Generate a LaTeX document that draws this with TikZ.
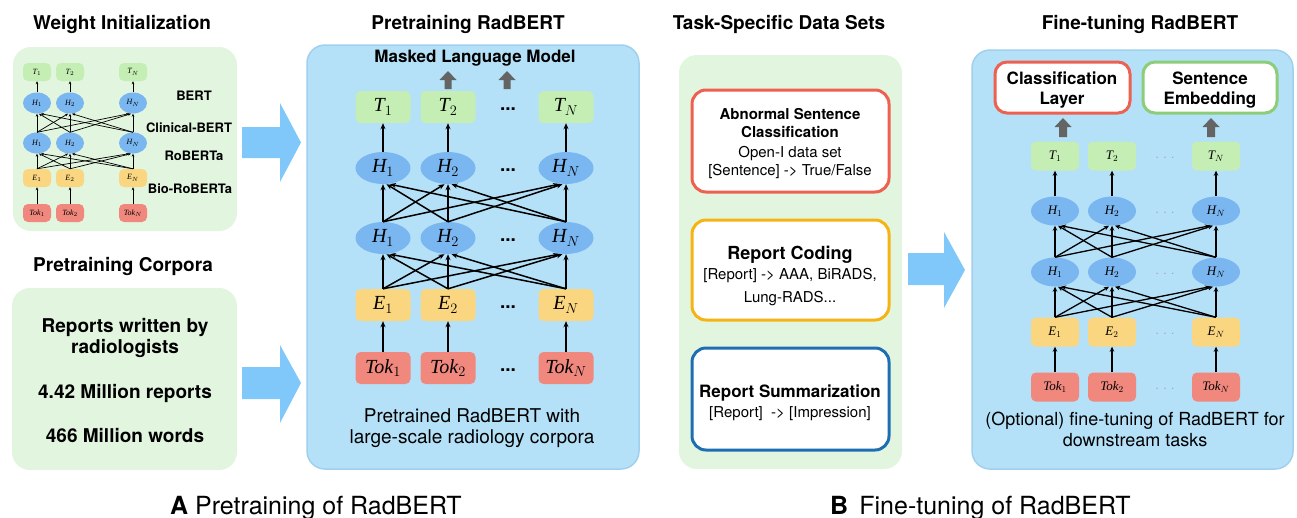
\documentclass[tikz,border=0pt]{standalone}
\usepackage{fontspec}
\setmainfont{TeX Gyre Heros}
\newfontfamily\timesf{Liberation Serif}
\usetikzlibrary{arrows.meta,shapes.geometric}
\definecolor{panelblue}{RGB}{180,225,248}
\definecolor{panelblueborder}{RGB}{160,208,238}
\definecolor{panelgreen}{RGB}{226,245,223}
\definecolor{tgreen}{RGB}{196,238,180}
\definecolor{hblue}{RGB}{122,182,240}
\definecolor{eyellow}{RGB}{250,214,128}
\definecolor{tokred}{RGB}{240,136,126}
\definecolor{bigarrow}{RGB}{128,200,250}
\definecolor{grayarr}{RGB}{100,100,100}
\definecolor{bred}{RGB}{238,96,80}
\definecolor{borange}{RGB}{245,180,20}
\definecolor{bblue}{RGB}{30,110,180}
\definecolor{bgreen}{RGB}{140,205,120}
\newcommand{\fs}[1]{\fontsize{#1}{#1}\selectfont}
\newcommand{\lab}[2]{{\timesf\itshape #1}$_{#2}$}
\tikzset{
  x=1pt, y=-1pt,
  panelB/.style={fill=panelblue, draw=panelblueborder, line width=1.5pt, rounded corners=18pt},
  panelG/.style={fill=panelgreen, rounded corners=18pt},
  tnode/.style={rectangle, rounded corners=5pt, fill=tgreen, inner sep=0pt},
  hnode/.style={ellipse, fill=hblue, inner sep=0pt},
  enode/.style={rectangle, rounded corners=5pt, fill=eyellow, inner sep=0pt},
  toknode/.style={rectangle, rounded corners=5pt, fill=tokred, inner sep=0pt},
  pre/.style={minimum width=55pt, minimum height=32pt, font=\fs{20}},
  fin/.style={minimum width=48pt, minimum height=29pt, font=\fs{13}},
  wi/.style={minimum width=28pt, minimum height=18pt, font=\fs{8}},
  conP/.style={line width=1.5pt, -{Stealth[length=6pt,width=5pt]}},
  conF/.style={line width=1.3pt, -{Stealth[length=5pt,width=4.5pt]}},
  conW/.style={line width=0.7pt, -{Stealth[length=3pt,width=2.6pt]}},
  title/.style={anchor=base, font=\fs{19}\bfseries},
  taskbox/.style={fill=white, rounded corners=14pt, line width=3pt},
  outbox/.style={fill=white, rounded corners=12pt, line width=3pt},
  txt/.style={anchor=base, inner sep=0pt},
}
\begin{document}
\begin{tikzpicture}
\useasboundingbox (0,0) rectangle (1297,517);

% ---------------- titles ----------------
\node[title] (t1) at (122,29) {Weight Initialization};
\node[title] (t2) at (123,271) {Pretraining Corpora};
\node[title] (t3) at (468,29) {Pretraining RadBERT};
\node[title] (t4) at (779,29) {Task-Specific Data Sets};
\node[title] (t5) at (1140,29) {Fine-tuning RadBERT};

% ---------------- panels ----------------
\path[panelG] (13,47) rectangle (237,231);
\path[panelG] (12,288) rectangle (237,470);
\path[panelB] (307,45) rectangle (639,469);
\path[panelG] (679,55) rectangle (902,469);
\path[panelB] (972,50) rectangle (1293,469);

% ---------------- big arrows ----------------
\fill[bigarrow] (242,127) -- (280,127) -- (280,103) -- (301,142.5) -- (280,182) -- (280,158) -- (242,158) -- cycle;
\fill[bigarrow] (242,367) -- (280,367) -- (280,345) -- (301,383) -- (280,423) -- (280,399) -- (242,399) -- cycle;
\fill[bigarrow] (908,253) -- (944,253) -- (944,232) -- (965,270) -- (944,308) -- (944,285) -- (908,285) -- cycle;

% ---------------- weight initialization ----------------
\foreach \i/\x/\s in {1/37/1,2/70/2,3/133/N} {
  \node[tnode,wi] (wT\i) at (\x,72) {\lab{T}{\s}};
  \node[hnode,wi,minimum height=21pt] (wHa\i) at (\x,103) {\lab{H}{\s}};
  \node[hnode,wi,minimum height=21pt] (wHb\i) at (\x,143) {\lab{H}{\s}};
  \node[enode,wi] (wE\i) at (\x,178) {\lab{E}{\s}};
  \node[toknode,wi] (wTok\i) at (\x,213) {\lab{Tok}{\s}};
}
\foreach \i in {1,2,3} {
  \draw[conW] (wHa\i.north) -- (wT\i.south);
  \draw[conW] (wTok\i.north) -- (wE\i.south);
  \foreach \j in {1,2,3} {
    \pgfmathsetmacro\off{2*(\i-\j)}
    \draw[conW] (wHb\i.north) -- ([xshift=\off pt]wHa\j.south);
    \draw[conW] (wE\i.north) -- ([xshift=\off pt]wHb\j.south);
  }
}
\node[txt, font=\fs{13}\bfseries] (lb1) at (194,100) {BERT};
\node[txt, font=\fs{13}\bfseries] (lb2) at (189,132) {Clinical-BERT};
\node[txt, font=\fs{13}\bfseries] (lb3) at (194,160) {RoBERTa};
\node[txt, font=\fs{13}\bfseries] (lb4) at (190,193) {Bio-RoBERTa};

% ---------------- pretraining corpora ----------------
\node[txt, font=\fs{19}\bfseries] (c1) at (125,332) {Reports written by};
\node[txt, font=\fs{19}\bfseries] (c2) at (125,353) {radiologists};
\node[txt, font=\fs{19}\bfseries] (c3) at (125,398) {4.42 Million reports};
\node[txt, font=\fs{19}\bfseries] (c4) at (125,442) {466 Million words};

% ---------------- pretraining RadBERT ----------------
\node[txt, font=\fs{17}\bfseries] (mlm) at (475,62) {Masked Language Model};
\foreach \x in {448,507} {
  \fill[grayarr] (\x-3.5,89) -- (\x-3.5,80) -- (\x-8.5,80) -- (\x,71) -- (\x+8.5,80) -- (\x+3.5,80) -- (\x+3.5,89) -- cycle;
}
\foreach \i/\x/\s in {1/383/1,2/448/2,3/566/N} {
  \node[tnode,pre] (pT\i) at (\x,107) {\lab{T}{\s}};
  \node[hnode,pre] (pHa\i) at (\x,168) {\lab{H}{\s}};
  \node[hnode,pre] (pHb\i) at (\x,238) {\lab{H}{\s}};
  \node[enode,pre] (pE\i) at (\x,305) {\lab{E}{\s}};
  \node[toknode,pre] (pTok\i) at (\x,368) {\lab{Tok}{\s}};
}
\foreach \y in {107,168,238,305,368} {
  \node[font=\fs{19}\bfseries] at (508,\y+2) {...};
}
\foreach \i in {1,2,3} {
  \draw[conP] (pHa\i.north) -- (pT\i.south);
  \draw[conP] (pTok\i.north) -- (pE\i.south);
  \foreach \j in {1,2,3} {
    \pgfmathsetmacro\off{3.5*(\i-\j)}
    \draw[conP] (pHb\i.north) -- ([xshift=\off pt]pHa\j.south);
    \draw[conP] (pE\i.north) -- ([xshift=\off pt]pHb\j.south);
  }
}
\node[txt, font=\fs{19}] (pr1) at (472,422) {Pretrained RadBERT with};
\node[txt, font=\fs{19}] (pr2) at (472,443) {large-scale radiology corpora};

% ---------------- task-specific data sets ----------------
\path[taskbox, draw=bred] (692,90) rectangle (889,192);
\node[txt, font=\fs{15}\bfseries] (a1) at (790,119) {Abnormal Sentence};
\node[txt, font=\fs{15}\bfseries] (a2) at (790,137) {Classification};
\node[txt, font=\fs{15}] (a3) at (790,157) {Open-I data set};
\node[txt, font=\fs{15}] (a4) at (790,175) {[Sentence] -> True/False};

\path[taskbox, draw=borange] (692,220) rectangle (889,320);
\node[txt, font=\fs{18}\bfseries] (b1) at (790,259) {Report Coding};
\node[txt, font=\fs{15}] (b2) at (790,279) {[Report] -> AAA, BiRADS,};
\node[txt, font=\fs{15}] (b3) at (790,302) {Lung-RADS...};

\path[taskbox, draw=bblue] (692,348) rectangle (889,450);
\node[txt, font=\fs{17}\bfseries] (s1) at (790,397) {Report Summarization};
\node[txt, font=\fs{15}] (s2) at (790,417) {[Report]\ \ -> [Impression]};

% ---------------- fine-tuning RadBERT ----------------
\path[outbox, draw=bred] (995,62) rectangle (1130,113);
\node[txt, font=\fs{17}\bfseries] (o1) at (1062,84) {Classification};
\node[txt, font=\fs{17}\bfseries] (o2) at (1062,104) {Layer};
\path[outbox, draw=bgreen] (1143,62) rectangle (1277,113);
\node[txt, font=\fs{17}\bfseries] (o3) at (1210,84) {Sentence};
\node[txt, font=\fs{17}\bfseries] (o4) at (1210,104) {Embedding};
\foreach \x in {1063,1211} {
  \fill[grayarr] (\x-4,137) -- (\x-4,127) -- (\x-8.5,127) -- (\x,118) -- (\x+8.5,127) -- (\x+4,127) -- (\x+4,137) -- cycle;
}
\foreach \i/\x/\s in {1/1055/1,2/1112/2,3/1216/N} {
  \node[tnode,fin] (fT\i) at (\x,156) {\lab{T}{\s}};
  \node[hnode,fin] (fHa\i) at (\x,211) {\lab{H}{\s}};
  \node[hnode,fin] (fHb\i) at (\x,272) {\lab{H}{\s}};
  \node[enode,fin] (fE\i) at (\x,332) {\lab{E}{\s}};
  \node[toknode,fin] (fTok\i) at (\x,387) {\lab{Tok}{\s}};
}
\foreach \y in {156,211,272,332,387} {
  \node[font=\fs{12}, text=black!35] at (1165,\y+2) {. . .};
}
\foreach \i in {1,2,3} {
  \draw[conF] (fHa\i.north) -- (fT\i.south);
  \draw[conF] (fTok\i.north) -- (fE\i.south);
  \foreach \j in {1,2,3} {
    \pgfmathsetmacro\off{3*(\i-\j)}
    \draw[conF] (fHb\i.north) -- ([xshift=\off pt]fHa\j.south);
    \draw[conF] (fE\i.north) -- ([xshift=\off pt]fHb\j.south);
  }
}
\node[txt, font=\fs{18}] (f1) at (1135,425) {(Optional) fine-tuning of RadBERT for};
\node[txt, font=\fs{18}] (f2) at (1135,446) {downstream tasks};

% ---------------- bottom captions ----------------
\node[txt, anchor=base west, font=\fs{25}] (capA) at (170,514) {\textbf{A} Pretraining of RadBERT};
\node[txt, anchor=base west, font=\fs{25}] (capB) at (830,514) {\textbf{B}\, Fine-tuning of RadBERT};
\end{tikzpicture}
\end{document}
